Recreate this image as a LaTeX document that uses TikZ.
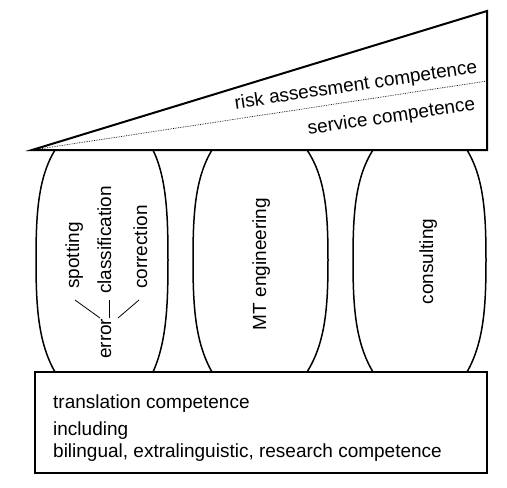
\documentclass[tikz,border=0pt]{standalone}
\usepackage{fontspec}
\setmainfont{Liberation Sans}
\newcommand\pillarpath[4]{%
  ({#2},150) .. controls ({#2-0.9*(#2-#1)},178) and ({#1},215) .. ({#1},260)
  .. controls ({#1},305) and ({#2-0.9*(#2-#1)},342) .. ({#2},372)
  ({#3},150) .. controls ({#3+0.9*(#4-#3)},178) and ({#4},215) .. ({#4},260)
  .. controls ({#4},305) and ({#3+0.9*(#4-#3)},342) .. ({#3},372)}
\begin{document}
\begin{tikzpicture}[x=1pt,y=-1pt,
  lbl/.style={inner sep=0pt, font=\fontsize{19}{22}\selectfont},
  thickline/.style={line width=2pt},
  pillarline/.style={line width=1.5pt},
  thinline/.style={line width=0.8pt}]
\useasboundingbox (0,0) rectangle (507,488);
% wedge
\coordinate (tip) at (32,150);
\coordinate (wedgeTop) at (487,11);
\coordinate (wedgeBR) at (487,150);
\coordinate (dotEnd) at (487,81);
\draw[thickline, line join=miter] (tip) -- (wedgeTop) -- (wedgeBR) -- cycle;
\draw[densely dotted, line width=0.7pt] (tip) -- (dotEnd);
\node[lbl, rotate=8.6, anchor=base east] (risk) at (478,72.5) {risk assessment competence};
\node[lbl, rotate=8.6, anchor=base east] (service) at (476,109.5) {service competence};
% pillars
\draw[pillarline] \pillarpath{36}{55}{153}{168};
\draw[pillarline] \pillarpath{193}{212}{307}{328};
\draw[pillarline] \pillarpath{353}{373}{467}{486};
% base box
\draw[thickline] (35,372) rectangle (487,473);
\node[lbl, anchor=base west] (tc) at (53,408) {translation competence};
\node[lbl, anchor=base west] (inc) at (53,435) {including};
\node[lbl, anchor=base west] (bil) at (53,457.5) {bilingual, extralinguistic, research competence};
% pillar texts
\node[lbl, rotate=90, anchor=base] (mt) at (266,264) {MT engineering};
\node[lbl, rotate=90, anchor=base] (cons) at (433,261.5) {consulting};
\node[lbl, rotate=90, anchor=base west] (error) at (111,359) {error};
\node[lbl, rotate=90, anchor=base west] (class) at (111,294) {classification};
\node[lbl, rotate=90, anchor=base west] (spot) at (79,289) {spotting};
\node[lbl, rotate=90, anchor=base west] (corr) at (147,289) {correction};
% fan lines
\coordinate (spotEnd) at (75,300);
\coordinate (errA) at (100,318);
\coordinate (dashTop) at (109,300);
\coordinate (dashBot) at (109,318);
\coordinate (corrEnd) at (139,300);
\coordinate (errB) at (118,318);
\draw[thinline] (spotEnd) -- (errA);
\draw[thinline] (dashTop) -- (dashBot);
\draw[thinline] (corrEnd) -- (errB);
\end{tikzpicture}
\end{document}
